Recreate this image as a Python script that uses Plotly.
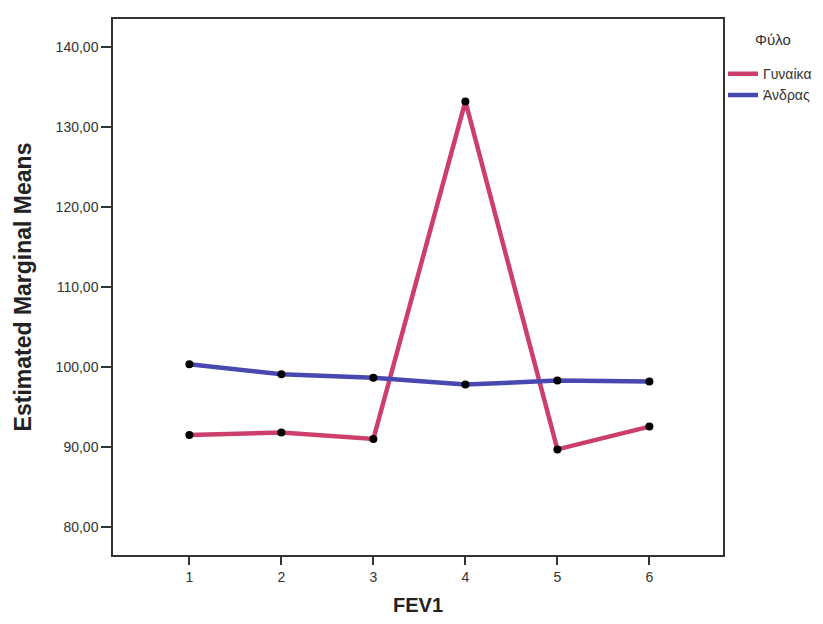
import plotly.graph_objects as go

# FEV1 categories and estimated marginal means per sex
fev1 = [1, 2, 3, 4, 5, 6]
women = [91.5, 91.8, 91.0, 133.2, 89.7, 92.55]
men = [100.35, 99.1, 98.65, 97.8, 98.3, 98.2]
series_names = ["Γυναίκα", "Άνδρας"]
series_colors = ["#CC3F6B", "#4848B0"]
legend_title = "Φύλο"

y_ticks = [80, 90, 100, 110, 120, 130, 140]
y_ticktext = ["80,00", "90,00", "100,00", "110,00", "120,00", "130,00", "140,00"]

fig = go.Figure()
for name, vals, col in zip(series_names, [women, men], series_colors):
    fig.add_trace(go.Scatter(
        x=fev1, y=vals, mode="lines", name=name,
        line=dict(color=col, width=4.5),
    ))
for vals in [women, men]:
    fig.add_trace(go.Scatter(
        x=fev1, y=vals, mode="markers", showlegend=False,
        marker=dict(color="black", size=8),
    ))

axis_font = dict(family="Liberation Sans, Arial", size=14, color="#333333")
fig.update_layout(
    width=823, height=624,
    margin=dict(l=113, r=100, t=19, b=69, autoexpand=False),
    paper_bgcolor="white", plot_bgcolor="white",
    font=dict(family="Liberation Sans, Arial", color="#222222"),
    xaxis=dict(
        range=[0.17, 6.8], tickvals=fev1, ticktext=[str(v) for v in fev1],
        showgrid=False, zeroline=False, showline=True, mirror=True,
        linecolor="#333333", linewidth=1.5,
        ticks="outside", ticklen=8, tickwidth=1.5, tickcolor="#333333",
        tickfont=axis_font,
        title=dict(text="<b>FEV1</b>", font=dict(size=20, color="#222222"), standoff=14),
    ),
    yaxis=dict(
        range=[76.5, 143.5], tickvals=y_ticks, ticktext=y_ticktext,
        showgrid=False, zeroline=False, showline=True, mirror=True,
        linecolor="#333333", linewidth=1.5,
        ticks="outside", ticklen=10, tickwidth=1.5, tickcolor="#333333",
        tickfont=axis_font,
        title=dict(text="<b>Estimated Marginal Means</b>", font=dict(size=23, color="#222222"), standoff=18),
    ),
    legend=dict(
        x=1.0, xanchor="left", yref="paper", y=0.927, yanchor="top",
        font=dict(family="Liberation Sans, Arial", size=14, color="#333333"),
        itemwidth=30, tracegroupgap=0, bgcolor="rgba(0,0,0,0)",
    ),
    annotations=[dict(
        text=legend_title, xref="paper", yref="paper",
        x=1.082, xanchor="center", y=0.961, yanchor="middle",
        showarrow=False, font=dict(family="Liberation Sans, Arial", size=15, color="#333333"),
    )],
)

fig.write_html("out.html")
